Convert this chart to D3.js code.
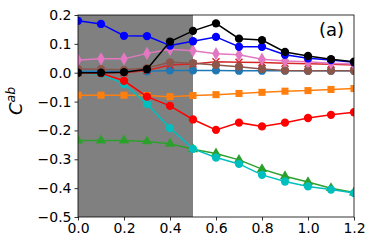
<!DOCTYPE html>
<html>
<head>
<meta charset="utf-8">
<script src="https://cdn.jsdelivr.net/npm/d3@7"></script>
<style>
  body { margin: 0; background: #fff; }
  svg text { font-family: "DejaVu Sans", sans-serif; }
</style>
</head>
<body>
<svg id="chart" width="374" height="249"></svg>
<script>
const xs = [0, 0.1, 0.2, 0.3, 0.4, 0.5, 0.6, 0.7, 0.8, 0.9, 1.0, 1.1, 1.2];

const tabBlue  = [0.005, 0.005, 0.005, 0.005, 0.008, 0.008, 0.008, 0.007, 0.007, 0.007, 0.007, 0.007, 0.007];
const tabOrange = [-0.078, -0.078, -0.078, -0.079, -0.083, -0.079, -0.076, -0.072, -0.068, -0.064, -0.062, -0.058, -0.055];
const tabGreen = [-0.235, -0.235, -0.235, -0.238, -0.246, -0.265, -0.28, -0.302, -0.334, -0.359, -0.379, -0.4, -0.415];
const tabRed   = [0.0, 0.0, 0.0, 0.008, 0.027, 0.03, 0.038, 0.036, 0.035, 0.033, 0.031, 0.029, 0.027];
const brown    = [0.013, 0.012, 0.01, 0.016, 0.036, 0.033, 0.027, 0.021, 0.013, 0.008, 0.007, 0.007, 0.007];
const pink     = [0.044, 0.048, 0.048, 0.067, 0.081, 0.076, 0.066, 0.062, 0.047, 0.041, 0.038, 0.033, 0.03];
const cyan     = [0.0, -0.005, -0.039, -0.108, -0.192, -0.264, -0.294, -0.316, -0.354, -0.377, -0.394, -0.405, -0.417];
const red      = [0.0, -0.002, -0.028, -0.083, -0.115, -0.162, -0.198, -0.173, -0.186, -0.173, -0.157, -0.146, -0.137];
const blue     = [0.18, 0.169, 0.128, 0.127, 0.094, 0.109, 0.124, 0.09, 0.09, 0.062, 0.05, 0.044, 0.036];
const blueErr  = [0.008, 0.012, 0.005, 0.005, 0.004, 0.005, 0.004, 0.004, 0.004, 0.003, 0.003, 0.003, 0.003];
const black    = [0.0, 0.0, 0.002, 0.012, 0.108, 0.145, 0.171, 0.118, 0.113, 0.072, 0.058, 0.047, 0.038];
const blackErr = [0.002, 0.002, 0.002, 0.003, 0.006, 0.01, 0.006, 0.004, 0.004, 0.003, 0.003, 0.003, 0.003];

const xTicks = [0, 0.2, 0.4, 0.6, 0.8, 1.0, 1.2];
const yTicks = [-0.5, -0.4, -0.3, -0.2, -0.1, 0.0, 0.1, 0.2];
const shadeRange = [0, 0.5];

const series = [
    {vals: tabBlue,   color: "#1f77b4", marker: "circle"},
    {vals: tabOrange, color: "#ff7f0e", marker: "square"},
    {vals: tabGreen,  color: "#2ca02c", marker: "triangle"},
    {vals: tabRed,    color: "#d62728", marker: "x"},
    {vals: brown,     color: "#8c564b", marker: "circle"},
    {vals: pink,      color: "#e377c2", marker: "diamond"},
    {vals: cyan,      color: "#00bfbf", marker: "circle"},
    {vals: red,       color: "#ff0000", marker: "circle"},
    {vals: blue,      color: "#0000ff", marker: "circle", err: blueErr},
    {vals: black,     color: "#000000", marker: "circle", err: blackErr}
];

const margin = {left: 78, top: 15};
const width = 276, height = 202;

const svg = d3.select("#chart");
const x = d3.scaleLinear().domain([0, 1.2]).range([0, width]);
const y = d3.scaleLinear().domain([-0.5, 0.2]).range([height, 0]);

svg.append("defs").append("clipPath").attr("id", "clip")
    .append("rect").attr("width", width).attr("height", height);

const g = svg.append("g").attr("transform", `translate(${margin.left},${margin.top})`);
const plot = g.append("g").attr("clip-path", "url(#clip)");

// zona sombreada
plot.append("rect")
    .attr("x", x(shadeRange[0]))
    .attr("y", 0)
    .attr("width", x(shadeRange[1]) - x(shadeRange[0]))
    .attr("height", height)
    .attr("fill", "#808080");

const line = d3.line().x((d, i) => x(xs[i])).y(d => y(d));

const symbols = {
    circle: d3.symbol(d3.symbolCircle, 54),
    square: d3.symbol(d3.symbolSquare, 50),
    triangle: d3.symbol(d3.symbolTriangle, 46),
    diamond: d3.symbol(d3.symbolDiamond, 50)
};

series.forEach(s => {
    const sg = plot.append("g");
    sg.append("path")
        .attr("d", line(s.vals))
        .attr("fill", "none")
        .attr("stroke", s.color)
        .attr("stroke-width", 1.5);

    if (s.err) {
        sg.selectAll(".err").data(s.vals).enter().append("line")
            .attr("x1", (d, i) => x(xs[i]))
            .attr("x2", (d, i) => x(xs[i]))
            .attr("y1", (d, i) => y(d - s.err[i]))
            .attr("y2", (d, i) => y(d + s.err[i]))
            .attr("stroke", s.color)
            .attr("stroke-width", 1.5);
    }

    if (s.marker === "x") {
        sg.selectAll(".mk").data(s.vals).enter().append("path")
            .attr("transform", (d, i) => `translate(${x(xs[i])},${y(d)})`)
            .attr("d", "M-3.5,-3.5L3.5,3.5M-3.5,3.5L3.5,-3.5")
            .attr("stroke", s.color)
            .attr("stroke-width", 1.5);
    } else {
        sg.selectAll(".mk").data(s.vals).enter().append("path")
            .attr("transform", (d, i) => `translate(${x(xs[i])},${y(d)})`)
            .attr("d", symbols[s.marker])
            .attr("fill", s.color);
    }
});

// ejes
const fmt = d => d3.format(".1f")(d).replace("-", "\u2212");
const xAxis = g.append("g")
    .attr("transform", `translate(0,${height})`)
    .call(d3.axisBottom(x).tickValues(xTicks).tickFormat(fmt).tickSize(3.5).tickPadding(3));
const yAxis = g.append("g")
    .call(d3.axisLeft(y).tickValues(yTicks).tickFormat(fmt).tickSize(3.5).tickPadding(3));

[xAxis, yAxis].forEach(a => {
    a.select(".domain").remove();
    a.selectAll("text").attr("font-size", 14).attr("fill", "#000")
        .attr("font-family", "DejaVu Sans, sans-serif");
    a.selectAll("line").attr("stroke", "#000").attr("stroke-width", 0.8);
});

g.append("rect")
    .attr("width", width).attr("height", height)
    .attr("fill", "none").attr("stroke", "#000").attr("stroke-width", 0.8);

// etiqueta eje Y
const yl = svg.append("text")
    .attr("transform", `translate(22,101) rotate(-90)`)
    .attr("text-anchor", "middle")
    .attr("font-size", 18);
yl.append("tspan").attr("font-style", "italic").text("C");
yl.append("tspan").attr("font-style", "italic").attr("font-size", 12.5).attr("dy", -7).text("ab");

svg.append("text")
    .attr("x", 344).attr("y", 36)
    .attr("text-anchor", "end")
    .attr("font-size", 18)
    .text("(a)");
</script>
</body>
</html>
